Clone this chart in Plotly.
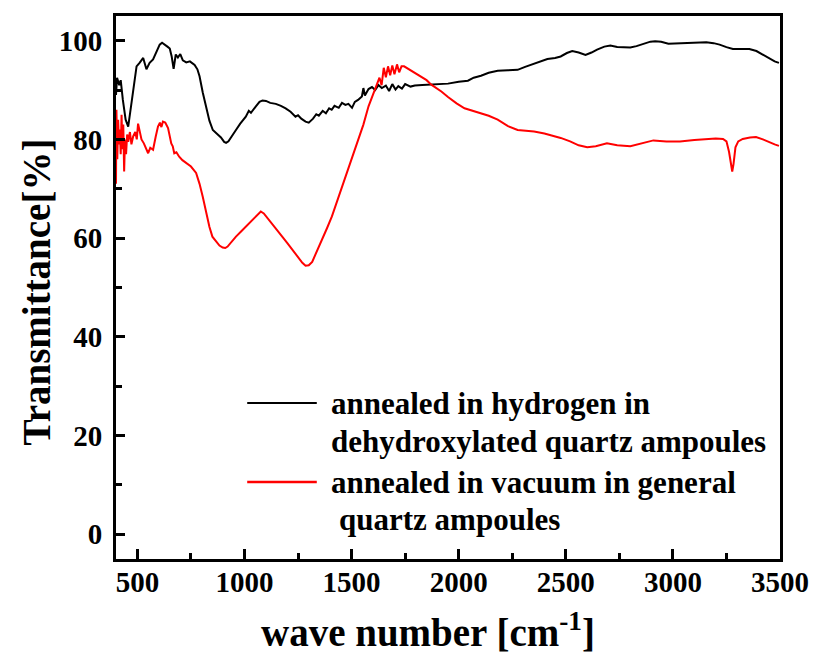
import plotly.graph_objects as go

# ---- data ----
black_x = [400, 405, 415, 422, 432, 445, 457, 470, 485, 496, 510, 527, 542, 557, 573, 590, 604, 615, 627, 640,
           651, 660, 669, 679, 689, 700, 712, 728, 745, 767, 780, 790, 805, 821, 836, 852, 870, 890, 905, 914,
           925, 940, 960, 980, 1006, 1020, 1030, 1053, 1070, 1084, 1100, 1120, 1146, 1170, 1192, 1215, 1238,
           1250, 1265, 1285, 1300, 1320, 1335, 1347, 1365, 1380, 1395, 1407, 1420, 1440, 1455, 1471, 1485,
           1502, 1515, 1530, 1548, 1555, 1562, 1579, 1595, 1610, 1625, 1641, 1660, 1675, 1690, 1705, 1718,
           1735, 1750, 1775, 1795, 1830, 1872, 1910, 1950, 2000, 2043, 2070, 2104, 2140, 2182, 2230, 2275,
           2310, 2352, 2385, 2414, 2450, 2476, 2505, 2530, 2560, 2592, 2620, 2646, 2680, 2708, 2740, 2801,
           2830, 2863, 2895, 2917, 2945, 2979, 3020, 3064, 3110, 3156, 3190, 3218, 3250, 3280, 3320, 3357,
           3390, 3419, 3450, 3475, 3495]
black_y = [89, 92.5, 91, 92, 88, 84, 82.6, 87, 92, 94.8, 95.5, 96.5, 94.2, 95.5, 96.2, 98, 99.2, 99.6, 99.3, 98.8,
           98.4, 96.8, 94.3, 97.2, 96.6, 97.3, 96, 95.6, 95.8, 95.1, 94.2, 92.8, 89.5, 86.7, 83.8, 81.9, 81.2, 80.4, 79.5, 79.3,
           79.6, 80.5, 81.9, 83.2, 84.6, 85.8, 85.4, 86.7, 87.6, 87.9, 87.8, 87.4, 87.2, 86.8, 86.3, 85.6, 84.6,
           84.9, 84.2, 83.6, 83.4, 84.2, 85.1, 84.8, 85.8, 85.3, 86.3, 86.0, 86.8, 86.4, 87.4, 87.0, 87.2,
           86.4, 87.6, 88.0, 88.7, 90.4, 88.9, 90.2, 90.6, 90.0, 91.0, 90.4, 90.9, 89.8, 91.2, 90.1, 90.8,
           90.3, 91.2, 90.7, 90.9, 91.0, 91.1, 91.2, 91.3, 91.7, 91.9, 92.5, 92.9, 93.5, 93.9, 94.0, 94.1,
           94.7, 95.4, 95.9, 96.3, 96.5, 96.8, 97.5, 97.9, 97.6, 97.1, 97.6, 98.2, 98.8, 99.0, 98.7, 98.6,
           98.9, 99.4, 99.8, 99.9, 99.8, 99.4, 99.5, 99.5, 99.6, 99.7, 99.5, 99.2, 98.7, 98.3, 98.3, 98.3,
           97.9, 97.2, 96.4, 95.8, 95.5]

red_x = [400, 402, 406, 410, 414, 418, 422, 426, 430, 434, 438, 442, 447, 452, 457, 465, 472, 480, 490, 497,
         503, 510, 519, 530, 540, 550, 560, 573, 585, 596, 605, 612, 619, 630, 643, 650, 658, 665, 672, 682,
         695, 710, 728, 750, 774, 790, 805, 820, 836, 850, 867, 883, 898, 910, 921, 940, 960, 985, 1006, 1030,
         1053, 1065, 1076, 1090, 1115, 1145, 1176, 1200, 1223, 1250, 1270, 1285, 1300, 1316, 1335, 1362, 1385,
         1408, 1440, 1470, 1500, 1532, 1555, 1579, 1600, 1617, 1630, 1640, 1650, 1660, 1670, 1680, 1690, 1700,
         1712, 1722, 1733, 1745, 1760, 1772, 1800, 1826, 1850, 1872, 1900, 1919, 1950, 1990, 2027, 2065, 2104,
         2140, 2182, 2230, 2275, 2310, 2352, 2400, 2440, 2476, 2520, 2560, 2600, 2640, 2692, 2740, 2801, 2850,
         2909, 2970, 3033, 3100, 3156, 3200, 3234, 3250, 3262, 3272, 3277, 3283, 3292, 3305, 3326, 3360, 3388,
         3420, 3450, 3475, 3495]
red_y = [71, 86, 76, 84, 79, 82, 77, 85, 78, 83, 73.5, 80, 77, 81, 79.5, 81.5, 79, 80.6, 81.5, 80,
         83.2, 81.5, 80, 79.2, 78, 77.2, 78.3, 77.9, 80.5, 82.6, 83.4, 82.5, 83.6, 83.4, 82.3, 80.5, 79.2, 78.6, 77.2, 77.4,
         76.5, 75.8, 75.2, 74.5, 73.2, 71, 68.4, 65.5, 62.3, 60.3, 59.3, 58.5, 58.1, 58.0, 58.3, 59.3, 60.3, 61.4, 62.3, 63.5,
         64.5, 65.0, 65.4, 65.0, 63.7, 62.0, 60.3, 59.0, 57.6, 56.2, 55.0, 54.4, 54.5, 55.2, 57.0, 59.6, 62.0,
         64.4, 68.4, 72.5, 76.0, 79.9, 83.0, 86.7, 89.0, 90.7, 92.5, 91.0, 94.5, 92.6, 94.8, 93.0, 95.0, 93.2,
         95.2, 93.6, 94.8, 94.8, 94.4, 94.1, 93.5, 92.8, 92.0, 91.1, 90.3, 89.7, 88.6, 87.3, 86.3, 85.8, 85.3,
         84.8, 84.0, 82.7, 81.9, 81.8, 81.6, 81.2, 80.8, 80.3, 79.6, 78.8, 78.4, 78.6, 79.2, 78.8, 78.6, 79.2,
         79.8, 79.6, 79.6, 79.9, 80.1, 80.2, 80.1, 79.6, 77.5, 74.5, 73.5, 75.0, 78.4, 79.6, 80.1, 80.4, 80.5,
         80.0, 79.4, 79.0, 78.7]

black_name = "annealed in hydrogen in dehydroxylated quartz ampoules"
red_name = "annealed in vacuum in general quartz ampoules"
legend_lines = ["annealed in hydrogen in", "dehydroxylated quartz ampoules",
                "annealed in vacuum in general", "quartz ampoules"]
x_ticks = [500, 1000, 1500, 2000, 2500, 3000, 3500]
x_minor = [750, 1250, 1750, 2250, 2750, 3250]
y_ticks = [0, 20, 40, 60, 80, 100]
y_minor = [10, 30, 50, 70, 90]
x_title = "wave number [cm<sup>-1</sup>]"
y_title = "Transmittance[%]"

FONT = "Liberation Serif"

fig = go.Figure()
fig.add_trace(go.Scatter(x=black_x, y=black_y, mode="lines", name=black_name,
                         line=dict(color="black", width=2)))
fig.add_trace(go.Scatter(x=red_x, y=red_y, mode="lines", name=red_name,
                         line=dict(color="#ff0000", width=2)))

axis_common = dict(showline=True, linecolor="black", linewidth=3, mirror=True,
                   ticks="inside", tickwidth=2.5, tickcolor="black",
                   showgrid=False, zeroline=False,
                   tickfont=dict(family=FONT, size=29, color="black", weight="bold"))

fig.update_xaxes(range=[400, 3500], tickmode="array", tickvals=x_ticks,
                 ticktext=[str(v) for v in x_ticks], ticklen=10,
                 minor=dict(tickmode="array", tickvals=x_minor, ticks="inside", ticklen=6,
                            tickwidth=2.5, tickcolor="black", showgrid=False),
                 ticklabelstandoff=-5, **axis_common)
fig.update_yaxes(range=[-5, 105], tickmode="array", tickvals=y_ticks,
                 ticktext=[str(v) for v in y_ticks], ticklen=9,
                 minor=dict(tickmode="array", tickvals=y_minor, ticks="inside", ticklen=6,
                            tickwidth=2.5, tickcolor="black", showgrid=False),
                 ticklabelstandoff=5, **axis_common)

# legend drawn as line samples + text
L, R, T, B = 116, 784, 16, 559
W, H = R - L, B - T
def px(x):
    return (x - L) / W
def py(y):
    return (B - y) / H

shapes = [
    dict(type="line", xref="paper", yref="paper", x0=px(248), x1=px(318), y0=py(403), y1=py(403),
         line=dict(color="black", width=2)),
    dict(type="line", xref="paper", yref="paper", x0=px(248), x1=px(318), y0=py(482), y1=py(482),
         line=dict(color="#ff0000", width=2.5)),
]
ann = []
for txt, xx, yy in zip(legend_lines, [330, 330, 330, 338], [403, 441, 482, 519]):
    ann.append(dict(text=txt, xref="paper", yref="paper", x=px(xx), y=py(yy), xanchor="left",
                    yanchor="middle", showarrow=False,
                    font=dict(family=FONT, size=31, color="black", weight="bold")))
ann.append(dict(text=x_title, xref="paper", yref="paper", x=px(430), y=py(630), xanchor="center",
                yanchor="middle", showarrow=False,
                font=dict(family=FONT, size=39, color="black", weight="bold")))
ann.append(dict(text=y_title, xref="paper", yref="paper", x=px(36), y=py(292), xanchor="center",
                yanchor="middle", showarrow=False, textangle=-90,
                font=dict(family=FONT, size=39, color="black", weight="bold")))

fig.update_layout(width=821, height=660, margin=dict(l=L, r=821 - R, t=T, b=660 - B),
                  paper_bgcolor="white", plot_bgcolor="white", showlegend=False,
                  shapes=shapes, annotations=ann)

fig.write_html("out.html")
